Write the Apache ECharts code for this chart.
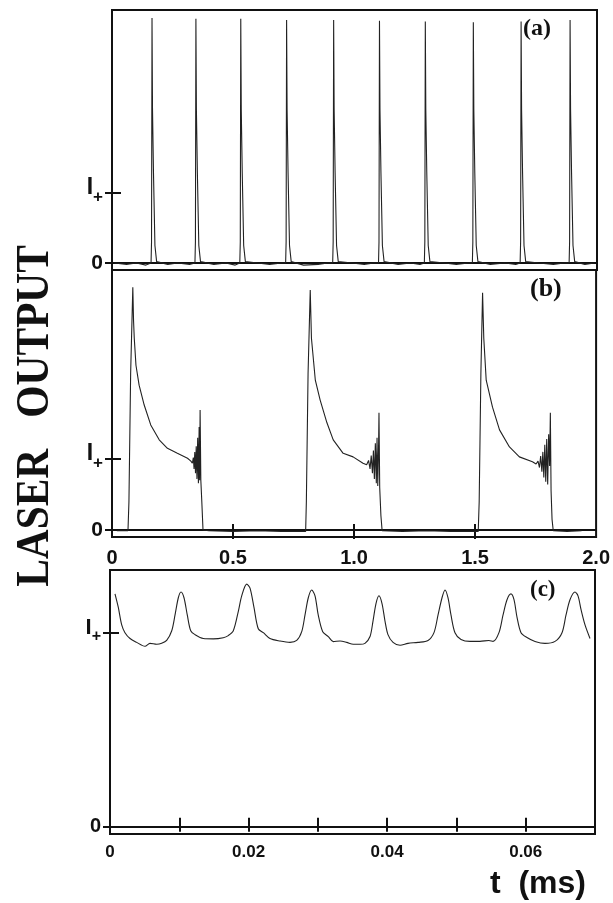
<!DOCTYPE html>
<html>
<head>
<meta charset="utf-8">
<script src="https://cdn.jsdelivr.net/npm/echarts@6.0.0/dist/echarts.min.js"></script>
<style>
html,body{margin:0;padding:0;background:#fff;}
#chart{width:613px;height:903px;}
</style>
</head>
<body>
<div id="chart"></div>
<script>
// ---------- Panel (a): regular spiking, t in ms (0..2), intensity in units of I+ ----------
const aT = [0.010,0.060,0.100,0.140,0.161,0.163,0.165,0.167,0.171,0.177,0.184,0.230,0.270,0.320,
  0.342,0.344,0.346,0.348,0.352,0.358,0.365,0.420,0.470,0.508,
  0.527,0.529,0.531,0.533,0.537,0.543,0.550,0.600,0.650,0.700,
  0.716,0.718,0.720,0.722,0.726,0.732,0.739,0.790,0.850,0.890,
  0.910,0.912,0.914,0.916,0.920,0.926,0.933,0.990,1.040,1.080,
  1.099,1.101,1.103,1.105,1.109,1.115,1.122,1.180,1.230,1.270,
  1.288,1.290,1.292,1.294,1.298,1.304,1.311,1.370,1.420,1.470,
  1.486,1.488,1.490,1.492,1.496,1.502,1.509,1.560,1.620,1.665,
  1.683,1.685,1.687,1.689,1.693,1.699,1.706,1.760,1.820,1.865,
  1.885,1.887,1.889,1.891,1.895,1.901,1.908,1.950,1.990];
const aV = [0.00,-0.02,0.00,-0.03,0.00,0.30,3.50,2.20,1.30,0.25,0.02,-0.02,0.00,-0.02,
  0.00,0.30,3.49,2.20,1.30,0.25,0.02,-0.02,0.00,-0.03,
  0.00,0.30,3.49,2.20,1.30,0.25,0.02,0.00,-0.02,0.00,
  0.00,0.30,3.47,2.20,1.30,0.25,0.02,-0.03,-0.02,0.00,
  0.00,0.30,3.47,2.20,1.30,0.25,0.02,0.00,-0.02,0.00,
  0.00,0.30,3.46,2.20,1.30,0.25,0.02,-0.02,0.00,-0.02,
  0.00,0.30,3.45,2.20,1.30,0.25,0.02,0.00,-0.02,0.00,
  0.00,0.30,3.44,2.20,1.30,0.25,0.02,-0.02,0.00,-0.02,
  0.00,0.30,3.45,2.20,1.30,0.25,0.02,0.00,-0.02,0.00,
  0.00,0.30,3.47,2.20,1.30,0.25,0.02,-0.02,0.00];

// ---------- Panel (b): relaxation pulses, t in ms (0..2) ----------
const bT = [0.020,0.066,0.070,0.077,0.086,0.089,0.092,0.099,0.112,0.133,0.160,0.195,0.229,0.270,0.312,0.326,
  0.332,0.336,0.339,0.342,0.345,0.348,0.351,0.354,0.357,0.360,0.362,0.364,0.367,0.371,0.376,0.400,0.500,0.600,0.700,0.800,
  0.803,0.810,0.819,0.824,0.840,0.860,0.888,0.914,0.955,0.996,1.037,
  1.052,1.060,1.066,1.071,1.076,1.080,1.084,1.088,1.092,1.095,1.098,1.101,1.103,1.106,1.111,1.116,1.200,1.300,1.400,1.513,
  1.517,1.524,1.531,1.536,1.546,1.572,1.601,1.642,1.683,1.737,
  1.752,1.760,1.766,1.771,1.776,1.780,1.784,1.788,1.792,1.796,1.800,1.804,1.808,1.811,1.814,1.818,1.823,1.880,1.940];
const bV = [-0.01,-0.01,0.40,2.20,3.42,2.95,2.70,2.32,2.04,1.76,1.48,1.27,1.15,1.08,1.01,0.97,
  0.94,1.02,0.86,1.10,0.80,1.18,0.72,1.30,0.66,1.45,0.70,1.69,0.70,0.40,0.00,-0.01,-0.02,-0.01,-0.02,-0.02,
  0.40,2.20,3.38,2.70,2.11,1.83,1.51,1.27,1.08,1.03,0.94,
  0.92,0.98,0.86,1.05,0.80,1.12,0.72,1.22,0.66,1.30,0.62,1.10,1.65,0.60,0.20,-0.01,-0.02,-0.01,-0.02,-0.02,
  0.40,2.20,3.34,2.70,2.11,1.73,1.41,1.17,1.03,0.96,
  0.93,0.97,0.88,1.04,0.82,1.10,0.74,1.20,0.68,1.28,0.64,1.35,0.90,1.65,0.55,0.15,-0.01,-0.02,-0.01];

// ---------- Panel (c): small periodic oscillation about I+, t in ms (0..0.07) ----------
const cT = [0.00072,0.00120,0.00169,0.00216,0.00289,0.00385,0.00505,0.00577,0.00674,0.00746,0.00818,0.00891,0.00938,0.00986,0.01025,0.01068,0.01116,0.01165,
  0.01227,0.01347,0.01491,0.01635,0.01707,0.01780,0.01852,0.01901,0.01973,0.02021,0.02078,0.02140,0.02213,
  0.02309,0.02454,0.02598,0.02695,0.02767,0.02814,0.02862,0.02911,0.02959,0.03006,0.03070,0.03151,
  0.03223,0.03320,0.03416,0.03512,0.03608,0.03680,0.03753,0.03796,0.03839,0.03882,0.03926,0.03969,0.04012,
  0.04085,0.04186,0.04301,0.04445,0.04590,0.04676,0.04734,0.04792,0.04835,0.04878,0.04922,0.04979,
  0.05066,0.05196,0.05340,0.05470,0.05528,0.05614,0.05672,0.05730,0.05787,0.05831,0.05874,0.05932,
  0.06018,0.06134,0.06278,0.06423,0.06524,0.06581,0.06639,0.06711,0.06755,0.06798,0.06856,0.06928];
const cV = [1.20,1.13,1.04,1.00,0.97,0.95,0.93,0.945,0.94,0.945,0.96,1.01,1.09,1.18,1.21,1.18,1.09,1.01,
  0.99,0.97,0.968,0.974,0.985,1.01,1.11,1.19,1.25,1.23,1.13,1.02,1.00,
  0.97,0.957,0.95,0.96,1.005,1.09,1.18,1.22,1.19,1.09,1.005,0.98,
  0.954,0.957,0.95,0.94,0.94,0.945,0.98,1.06,1.15,1.19,1.15,1.06,0.99,
  0.95,0.935,0.945,0.95,0.96,1.00,1.09,1.18,1.22,1.18,1.09,1.00,
  0.965,0.955,0.955,0.96,0.955,1.00,1.09,1.17,1.20,1.17,1.08,1.00,
  0.975,0.955,0.945,0.955,1.00,1.09,1.17,1.21,1.19,1.12,1.04,0.97];

// ---------- axis labels ----------
const bTickVals = [0.5, 1.0, 1.5];
const bLabelVals = [0, 0.5, 1.0, 1.5, 2.0];
const cTickVals = [0.01, 0.02, 0.03, 0.04, 0.05, 0.06];
const cLabelVals = [0, 0.02, 0.04, 0.06];
const yLabelVals = [0, 1];            // 0 and I+
const panelNames = ['(a)', '(b)', '(c)'];
const yTitle = 'LASER   OUTPUT';
const xTitle = 't  (ms)';

const zip = (t, v) => t.map((x, i) => [x, v[i]]);
const SANS = '"Liberation Sans", Arial, Helvetica, sans-serif';
const SERIF = '"Liberation Serif", "Times New Roman", serif';
const INK = '#111';

function yLabel(size, sub) {
  return {
    show: true, customValues: yLabelVals, margin: 9,
    formatter: v => v === 0 ? '{z|0}' : '{i|I}{p|+}',
    rich: {
      z: {fontSize: size, fontWeight: 'bold', fontFamily: SANS, color: INK},
      i: {fontSize: size + 2, fontWeight: 'bold', fontFamily: SANS, color: INK, padding: [0, 0, 10, 0]},
      p: {fontSize: sub, fontWeight: 'bold', fontFamily: SANS, color: INK, padding: [8, 0, 0, 0]}
    }
  };
}
function yMain(grid, min, max, size, sub) {
  return {type: 'value', gridIndex: grid, min, max, position: 'left',
    axisLine: {show: true, lineStyle: {color: INK, width: 2}},
    axisTick: {show: true, customValues: yLabelVals, length: 7, inside: false, lineStyle: {color: INK, width: 2}},
    axisLabel: yLabel(size, sub), splitLine: {show: false}};
}
function yOver(grid, min, max, vals) {
  return {type: 'value', gridIndex: grid, min, max, position: 'left',
    axisLine: {show: false},
    axisTick: {show: true, customValues: vals, length: 9, inside: true, lineStyle: {color: INK, width: 2}},
    axisLabel: {show: false}, splitLine: {show: false}};
}

const chart = echarts.init(document.getElementById('chart'), null, {renderer: 'canvas'});
chart.setOption({
  animation: false,
  backgroundColor: '#fff',
  grid: [
    {left: 112, top: 10, width: 485, height: 260, show: true, borderColor: INK, borderWidth: 2},
    {left: 112, top: 270, width: 485, height: 267, show: true, borderColor: INK, borderWidth: 2},
    {left: 110, top: 570, width: 485, height: 264, show: true, borderColor: INK, borderWidth: 2}
  ],
  xAxis: [
    {type: 'value', gridIndex: 0, min: 0, max: 2, position: 'bottom',
      axisLine: {show: true, lineStyle: {color: INK, width: 2}}, axisTick: {show: false}, axisLabel: {show: false}, splitLine: {show: false}},
    {type: 'value', gridIndex: 1, min: 0, max: 2, interval: 0.5, position: 'bottom',
      axisLine: {show: true, lineStyle: {color: INK, width: 2}},
      axisTick: {show: true, customValues: bTickVals, length: 9, lineStyle: {color: INK, width: 2}},
      axisLabel: {show: true, customValues: bLabelVals, margin: 11, fontSize: 20, fontWeight: 'bold', fontFamily: SANS, color: INK,
        formatter: v => v === 0 ? '0' : v.toFixed(1)},
      splitLine: {show: false}},
    {type: 'value', gridIndex: 1, min: 0, max: 2, position: 'bottom',
      axisLine: {show: false},
      axisTick: {show: true, customValues: bTickVals, length: 6, inside: true, lineStyle: {color: INK, width: 2}},
      axisLabel: {show: false}, splitLine: {show: false}},
    {type: 'value', gridIndex: 2, min: 0, max: 0.07, interval: 0.01, position: 'bottom',
      axisLine: {show: true, lineStyle: {color: INK, width: 2}},
      axisTick: {show: true, customValues: cTickVals, length: 5, lineStyle: {color: INK, width: 2}},
      axisLabel: {show: true, customValues: cLabelVals, margin: 10, fontSize: 17, fontWeight: 'bold', fontFamily: SANS, color: INK,
        formatter: v => v === 0 ? '0' : v.toFixed(2)},
      splitLine: {show: false}},
    {type: 'value', gridIndex: 2, min: 0, max: 0.07, position: 'bottom',
      axisLine: {show: false},
      axisTick: {show: true, customValues: cTickVals, length: 9, inside: true, lineStyle: {color: INK, width: 2}},
      axisLabel: {show: false}, splitLine: {show: false}}
  ],
  yAxis: [
    yMain(0, -0.1, 3.614, 21, 17),
    yOver(0, -0.1, 3.614, [1]),
    yMain(1, -0.0986, 3.662, 21, 17),
    yOver(1, -0.0986, 3.662, [1]),
    yMain(2, -0.0376, 1.323, 20, 16),
    yOver(2, -0.0376, 1.323, [0, 1])
  ],
  series: [
    {type: 'line', xAxisIndex: 0, yAxisIndex: 0, data: zip(aT, aV), showSymbol: false, symbol: 'none',
      lineStyle: {color: '#222', width: 1.1}},
    {type: 'line', xAxisIndex: 1, yAxisIndex: 2, data: zip(bT, bV), showSymbol: false, symbol: 'none',
      lineStyle: {color: '#222', width: 1.1}},
    {type: 'line', xAxisIndex: 3, yAxisIndex: 4, data: zip(cT, cV), showSymbol: false, symbol: 'none', smooth: 0.3,
      lineStyle: {color: '#222', width: 1.1}}
  ],
  graphic: [
    {type: 'text', left: 523, top: 17, style: {text: panelNames[0], font: 'bold 24px ' + SERIF, fill: INK}},
    {type: 'text', left: 530, top: 276, style: {text: panelNames[1], font: 'bold 26px ' + SERIF, fill: INK}},
    {type: 'text', left: 530, top: 579, style: {text: panelNames[2], font: 'bold 23px ' + SERIF, fill: INK}},
    {type: 'text', x: 36, y: 416, rotation: Math.PI / 2, scaleX: 0.9,
      style: {text: yTitle, font: 'bold 46px ' + SERIF, fill: INK, align: 'center', verticalAlign: 'middle'}},
    {type: 'text', left: 490, top: 868, style: {text: xTitle, font: 'bold 32px ' + SANS, fill: INK}}
  ]
});
</script>
</body>
</html>
